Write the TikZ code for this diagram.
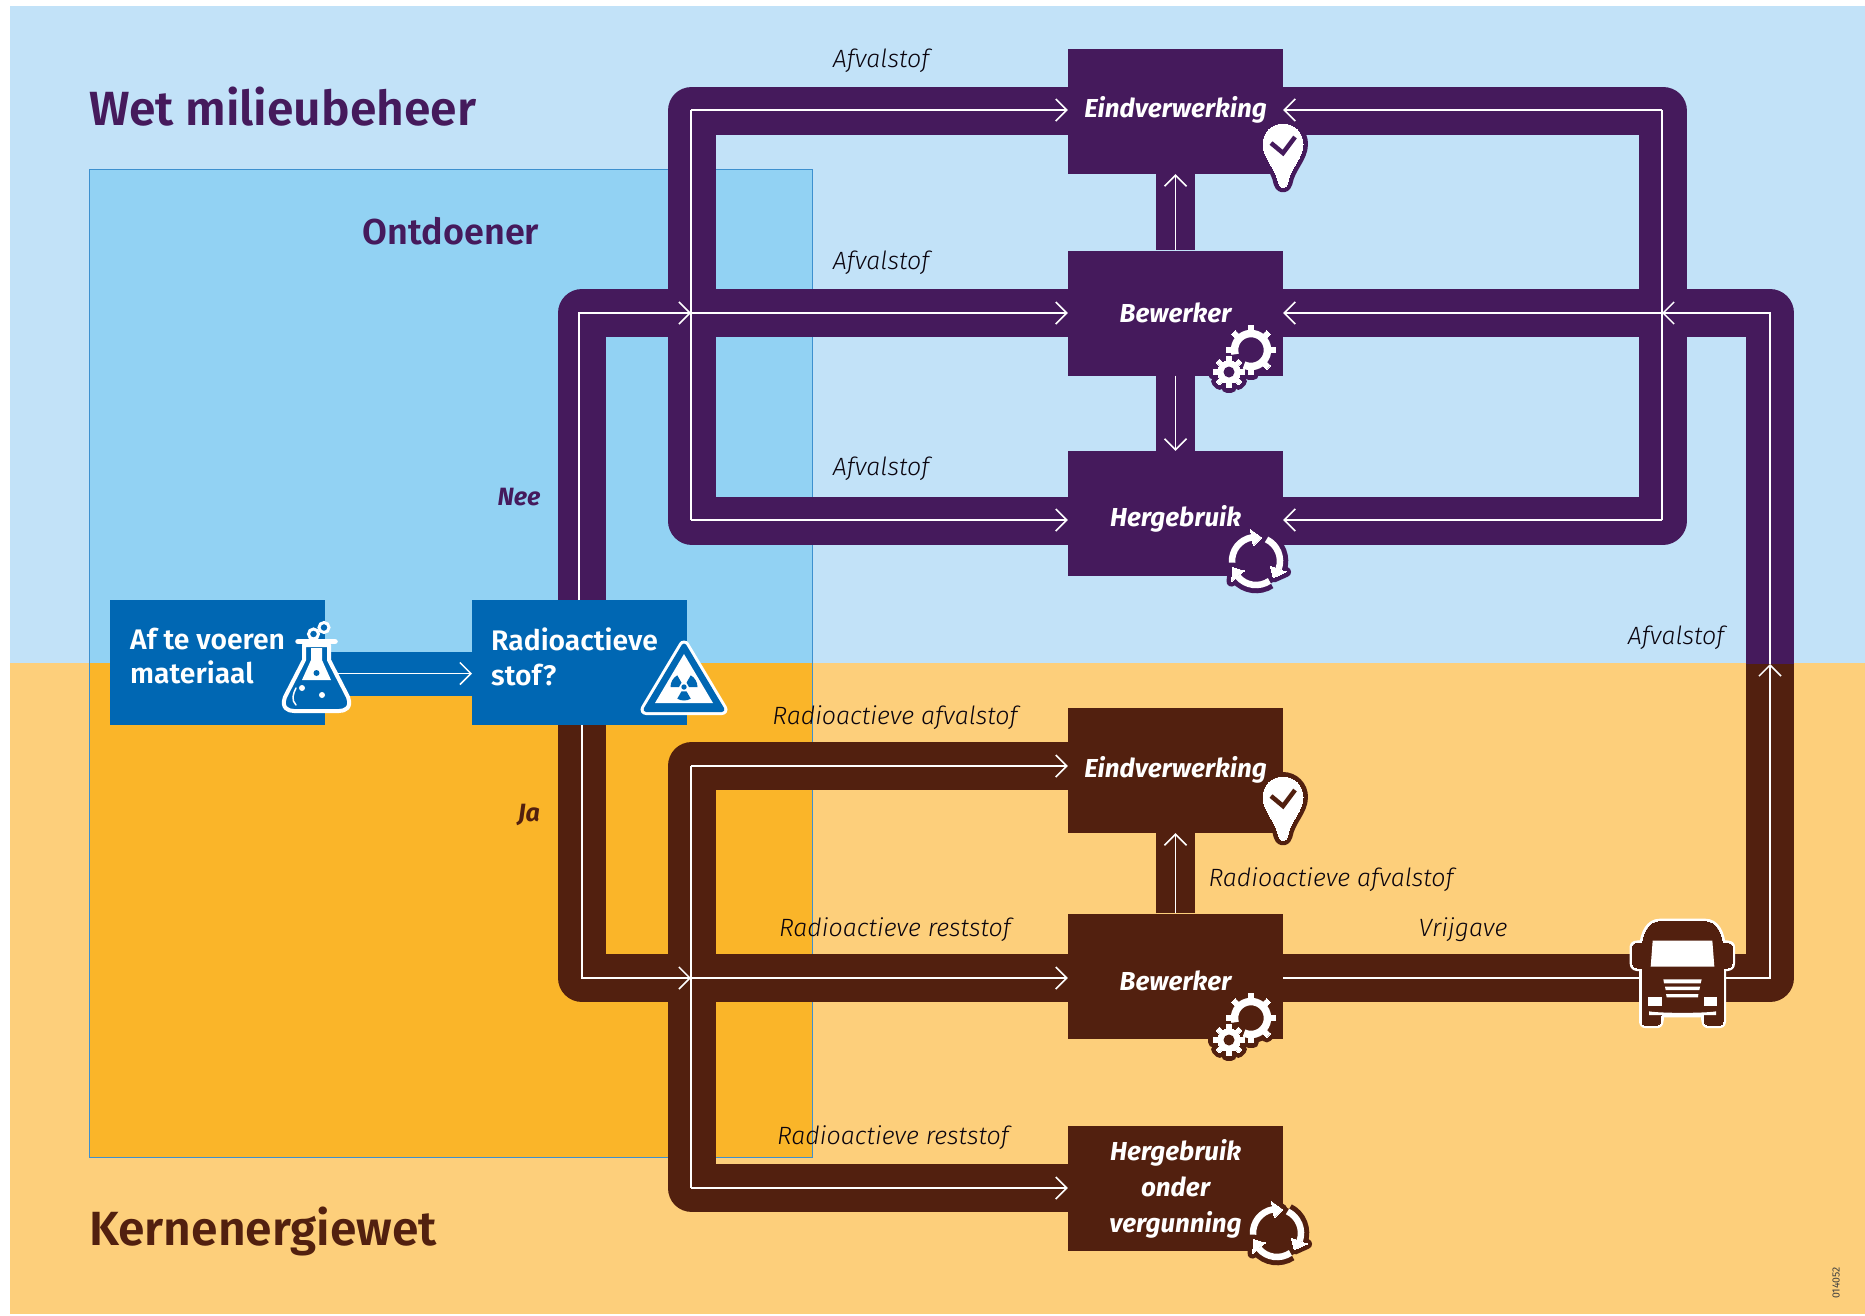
\documentclass[tikz,border=0pt]{standalone}
\usepackage{fontspec}
\setmainfont{Fira Sans}
\newfontfamily\lblfont{Fira Sans Light Italic}
\newfontfamily\semifont{Fira Sans SemiBold}
\usetikzlibrary{arrows.meta}
\definecolor{purp}{HTML}{451A5C}
\definecolor{brwn}{HTML}{52200F}
\definecolor{blu}{HTML}{0067B3}
\definecolor{skyL}{HTML}{C2E2F8}
\definecolor{skyM}{HTML}{92D2F3}
\definecolor{orL}{HTML}{FDCF7B}
\definecolor{orM}{HTML}{FAB529}
\definecolor{rectline}{HTML}{3D90CF}
\pgfdeclarelayer{bg}\pgfdeclarelayer{bands}\pgfsetlayers{bg,bands,main}
\newcommand{\boxline}[2]{\raisebox{#1pt}[0pt][0pt]{#2}}
\tikzset{
  band/.style={line width=48pt,line join=round,line cap=butt},
  stub/.style={line width=39pt,line cap=butt},
  wire/.style={draw=white,line width=1.5pt,line join=miter},
  tip/.style={wire,-{Straight Barb[length=11pt,width=22pt]}},
  boxn/.style={fill=#1,text=white,minimum width=215pt,minimum height=125pt,inner sep=0pt,align=center,
     font=\fontsize{26}{36}\selectfont\bfseries\itshape},
  bluebox/.style={fill=blu,minimum width=215pt,minimum height=125pt,inner sep=0pt},
  bluetxt/.style={text=white,inner sep=0pt,anchor=west,align=left,font=\fontsize{28.3}{34.5}\semifont},
  lbl/.style={font=\fontsize{25}{28}\lblfont,text=black!85!purp,inner sep=0pt},
  title/.style={font=\fontsize{48}{50}\semifont,inner sep=0pt,anchor=west},
}
\newcommand{\pinicon}[3]{%
 \begin{scope}[shift={(#1,#2)}]
  \foreach \ic/\ew in {#3/10,white/0}{
  \filldraw[color=\ic,line width=\ew pt,line join=round] (-20,0) arc[start angle=180,end angle=360,radius=20]
     .. controls (20,14) and (7,24) .. (4.5,39) .. controls (3.5,45) and (-3.5,45) .. (-4.5,39)
     .. controls (-7,24) and (-20,14) .. (-20,0) -- cycle;}
  \draw[#3,line width=4.5pt,line cap=butt,line join=miter] (-12,-1) -- (0,9) -- (12,-7);
 \end{scope}}
\newcommand{\gearicon}[3]{%
 \begin{scope}[shift={(#1,#2)}]
  \fill[#3] (0,0) circle[radius=20];
  \foreach \ic/\ew in {#3/10,white/0}{
   \draw[color=\ic,line width={7.5pt+\ew pt}] (165:16.5) arc[start angle=165,end angle=475,radius=16.5];
   \foreach \t in {180,225,270,315,360,405,450}{
     \fill[color=\ic,draw=\ic,line width=\ew pt,line join=round] (\t-9:18) -- (\t-6:25) -- (\t+6:25) -- (\t+9:18) -- cycle;}
   \begin{scope}[shift={(-22,22)}]
    \draw[color=\ic,fill=\ic,line width=\ew pt] (0,0) circle[radius=11.5];
    \foreach \t in {0,45,...,315}{
     \fill[color=\ic,draw=\ic,line width=\ew pt,line join=round] (\t-12:10) -- (\t-9:16) -- (\t+9:16) -- (\t+12:10) -- cycle;}
   \end{scope}
  }
  \fill[#3] (-22,22) circle[radius=5.5];
 \end{scope}}
\newcommand{\cycleicon}[3]{%
 \begin{scope}[shift={(#1,#2)}]
  \fill[#3] (0,0) circle[radius=27];
  \foreach \ic/\ew in {#3/10,white/0}{
   \foreach \a in {0,120,240}{
    \draw[color=\ic,line width={6.5pt+\ew pt},line cap=butt] ({\a-184}:24) arc[start angle=\a-184,end angle=\a-100,radius=24];
    \fill[color=\ic,draw=\ic,line width=\ew pt,line join=round] ({\a-100}:15.5) -- ({\a-100}:32) -- ({\a-76}:24) -- cycle;
   }}
 \end{scope}}
\begin{document}
\begin{tikzpicture}[x=1pt,y=-1pt]
\useasboundingbox (0,0) rectangle (1865,1315);
% backgrounds
\begin{pgfonlayer}{bg}
\fill[skyL] (10,6) rectangle (1865,663);
\fill[orL] (10,663) rectangle (1865,1314);
\fill[skyM] (89,169) rectangle (812,663);
\fill[orM] (89,663) rectangle (812,1157);
\draw[rectline,line width=0.8pt] (89,169) rectangle (812,1157);
\end{pgfonlayer}
% nodes
\node[boxn=purp] (eindP) at (1175.5,111.5) {\boxline{-5.5}{Eindverwerking}};
\node[boxn=purp] (bewP) at (1175.5,313) {\boxline{-9.5}{Bewerker}};
\node[boxn=purp] (herP) at (1175.5,513.5) {\boxline{-12.5}{Hergebruik}};
\node[boxn=brwn] (eindB) at (1175.5,770.5) {\boxline{-6.5}{Eindverwerking}};
\node[boxn=brwn] (bewB) at (1175.5,976) {\boxline{-14.5}{Bewerker}};
\node[boxn=brwn] (herB) at (1175.5,1188.5) {Hergebruik\\onder\\vergunning};
\node[bluebox,anchor=north west] (mat) at (110,600) {};
\node[bluebox,anchor=north west] (rad) at (472,600) {};
\node[bluetxt] (matt) at (130,656) {Af te voeren\\materiaal};
\node[bluetxt] (radt) at (491,657) {Radioactieve\\stof?};
% corner coordinates of the bands
\coordinate (pa) at (691.5,110.5); \coordinate (pb) at (691.5,520.5);
\coordinate (pc) at (1663,110.5);  \coordinate (pd) at (1663,520.5);
\coordinate (pe) at (582,313);     \coordinate (pf) at (1770,313);
\coordinate (pg) at (1770,664);
\coordinate (ba) at (691.5,766);   \coordinate (bb) at (691.5,1188);
\coordinate (bc) at (582,978);     \coordinate (bd) at (1770,978);
% bands (drawn behind boxes)
\begin{pgfonlayer}{bands}
 \draw[band,purp] (eindP.west |- pa) -- (pa) -- (pb) -- (herP.west |- pb);
 \draw[band,purp] (eindP.east |- pc) -- (pc) -- (pd) -- (herP.east |- pd);
 \draw[band,purp] (rad.north -| pe) -- (pe) -- (bewP.west |- pe);
 \draw[band,purp] (pg) -- (pf) -- (bewP.east |- pf);
 \draw[stub,purp] (eindP) -- (bewP);
 \draw[stub,purp] (bewP) -- (herP);
 \draw[band,brwn] (eindB.west |- ba) -- (ba) -- (bb) -- (herB.west |- bb);
 \draw[band,brwn] (rad.south -| bc) -- (bc) -- (bewB.west |- bc);
 \draw[band,brwn] (pg) -- (bd) -- (bewB.east |- bd);
 \draw[stub,brwn] (bewB) -- (eindB);
 \draw[line width=44pt,blu] (mat.east |- 0,673.5) -- (rad.west |- 0,673.5);
\end{pgfonlayer}
% white connectors
\draw[wire] (691,110) -- (691,520);
\draw[tip] (691,110) -- (eindP.west |- 691,110);
\draw[tip] (691,520) -- (herP.west |- 691,520);
\draw[wire] (1662,110) -- (1662,520);
\draw[tip] (1662,110) -- (eindP.east |- 1662,110);
\draw[tip] (1662,520) -- (herP.east |- 1662,520);
\draw[tip] (rad.north -| 579,313) -- (579,313) -- (691,313);
\draw[tip] (691,313) -- (bewP.west |- 691,313);
\draw[tip] (pg) -- (1770,313) -- (1662,313);
\draw[tip] (1662,313) -- (bewP.east |- 1662,313);
\draw[tip] (bewP.north) -- (eindP.south);
\draw[tip] (bewP.south) -- (herP.north);
\draw[wire] (691,766) -- (691,1188);
\draw[tip] (691,766) -- (eindB.west |- 691,766);
\draw[tip] (691,1188) -- (herB.west |- 691,1188);
\draw[tip] (rad.south -| 582,978) -- (582,978) -- (691,978);
\draw[tip] (691,978) -- (bewB.west |- 691,978);
\draw[tip] (bewB.east |- 1283,978) -- (1770,978) -- (pg);
\draw[tip] (bewB.north) -- (eindB.south);
\draw[tip] (mat.east |- 0,673.5) -- (rad.west |- 0,673.5);
% titles
\node[title,text=purp] (t1) at (89,107) {Wet milieubeheer};
\node[title,text=brwn] (t2) at (89,1231) {Kernenergiewet};
\node[font=\fontsize{36}{38}\semifont,text=purp,inner sep=0pt] (t3) at (451,231) {Ontdoener};
\node[font=\fontsize{25}{28}\selectfont\bfseries\itshape,text=purp,inner sep=0pt] (nee) at (519,497) {Nee};
\node[font=\fontsize{25}{28}\selectfont\bfseries\itshape,text=brwn,inner sep=0pt] (ja) at (529,815) {Ja};
% labels
\node[lbl] (l1) at (881,60.5) {Afvalstof};
\node[lbl] (l2) at (881,263) {Afvalstof};
\node[lbl] (l3) at (881,469) {Afvalstof};
\node[lbl] (l4) at (1676,637.5) {Afvalstof};
\node[lbl] (l5) at (895,717.5) {Radioactieve afvalstof};
\node[lbl] (l6) at (1331,879.5) {Radioactieve afvalstof};
\node[lbl] (l7) at (895,929.5) {Radioactieve reststof};
\node[lbl] (l8) at (893,1137.5) {Radioactieve reststof};
\node[lbl] (l9) at (1463,929.5) {Vrijgave};
\node[rotate=90,font=\fontsize{10.5}{12}\selectfont,text=black!75,inner sep=0pt] (code) at (1836,1283) {014052};
% icons
\pinicon{1283}{144}{purp}
\pinicon{1283}{797}{brwn}
\gearicon{1251}{350}{purp}
\gearicon{1251}{1018}{brwn}
\cycleicon{1256}{561}{purp}
\cycleicon{1277}{1233}{brwn}
% flask
\draw[white,fill=blu,line width=4pt,line join=round] (304,645) -- (304,660) -- (285,697) .. controls (281,708) and (288,711) .. (294,711) -- (339,711) .. controls (345,711) and (352,708) .. (348,697) -- (329,660) -- (329,645) -- cycle;
\draw[white,line width=5.5pt,line cap=round] (298,641.5) -- (335,641.5);
\fill[white] (311,648) -- (322,648) -- (322,660) -- (331,680) -- (302,680) -- (311,660) -- cycle;
\fill[blu] (316.5,673) circle[radius=3];
\fill[white] (302,688) circle[radius=3];
\fill[white] (322,695) circle[radius=3];
\draw[white,line width=1.5pt,line cap=round] (296,688) .. controls (293,694) and (291,700) .. (296,705);
\draw[white,fill=blu,line width=3pt] (313.5,634) circle[radius=5];
\draw[white,fill=blu,line width=3pt] (324,627.5) circle[radius=5];
% radiation sign
\draw[white,fill=white,line width=11pt,line join=round] (684,646) -- (646,709.5) -- (722,709.5) -- cycle;
\draw[blu,fill=blu,line width=5pt,line join=round] (684,646) -- (646,709.5) -- (722,709.5) -- cycle;
\fill[white] (684,654) -- (655,703) -- (713,703) -- cycle;
\begin{scope}[shift={(684,687)}]
 \foreach \a in {-150,-30,90}{
  \fill[blu] ({\a-30}:5) -- ({\a-30}:13.5) arc[start angle=\a-30,end angle=\a+30,radius=13.5] -- ({\a+30}:5) -- cycle;}
 \fill[blu] (0,0) circle[radius=2.7];
\end{scope}
% truck
\begin{scope}[shift={(1580,880)},scale=1/3]
 \foreach \ic/\ew in {white/6,brwn/0}{
 \filldraw[color=\ic,line width=\ew pt,line join=round]
   (158,200) .. controls (158,192) and (165,190) .. (185,190) -- (185,265) .. controls (165,265) and (158,262) .. (158,250) -- cycle;
 \filldraw[color=\ic,line width=\ew pt,line join=round]
   (456,200) .. controls (456,192) and (449,190) .. (429,190) -- (429,265) .. controls (449,265) and (456,262) .. (456,250) -- cycle;
 \filldraw[color=\ic,line width=\ew pt,line join=round]
   (240,125) -- (375,125) .. controls (410,125) and (425,160) .. (429,200) -- (429,425) .. controls (429,433) and (425,435) .. (420,435)
   -- (382,435) .. controls (376,435) and (372,430) .. (372,403) -- (243,403) .. controls (243,430) and (239,435) .. (233,435) -- (195,435)
   .. controls (190,435) and (186,433) .. (186,425) -- (186,200) .. controls (190,160) and (205,125) .. (240,125) -- cycle;}
 \fill[white] (218,182) -- (397,182) -- (403,260) -- (212,260) -- cycle;
 \fill[white] (250,298) -- (365,298) -- (362,310) -- (252,310) -- cycle;
 \fill[white] (255,320) -- (360,320) -- (358,330) -- (257,330) -- cycle;
 \fill[white] (258,342) -- (355,342) -- (354,352) -- (260,352) -- cycle;
 \fill[white] (205,352) rectangle (245,378);
 \fill[white] (372,352) rectangle (410,378);
 \fill[white] (207,394) .. controls (240,400) and (375,400) .. (408,394) -- (408,405) -- (207,405) -- cycle;
\end{scope}
\end{tikzpicture}
\end{document}
